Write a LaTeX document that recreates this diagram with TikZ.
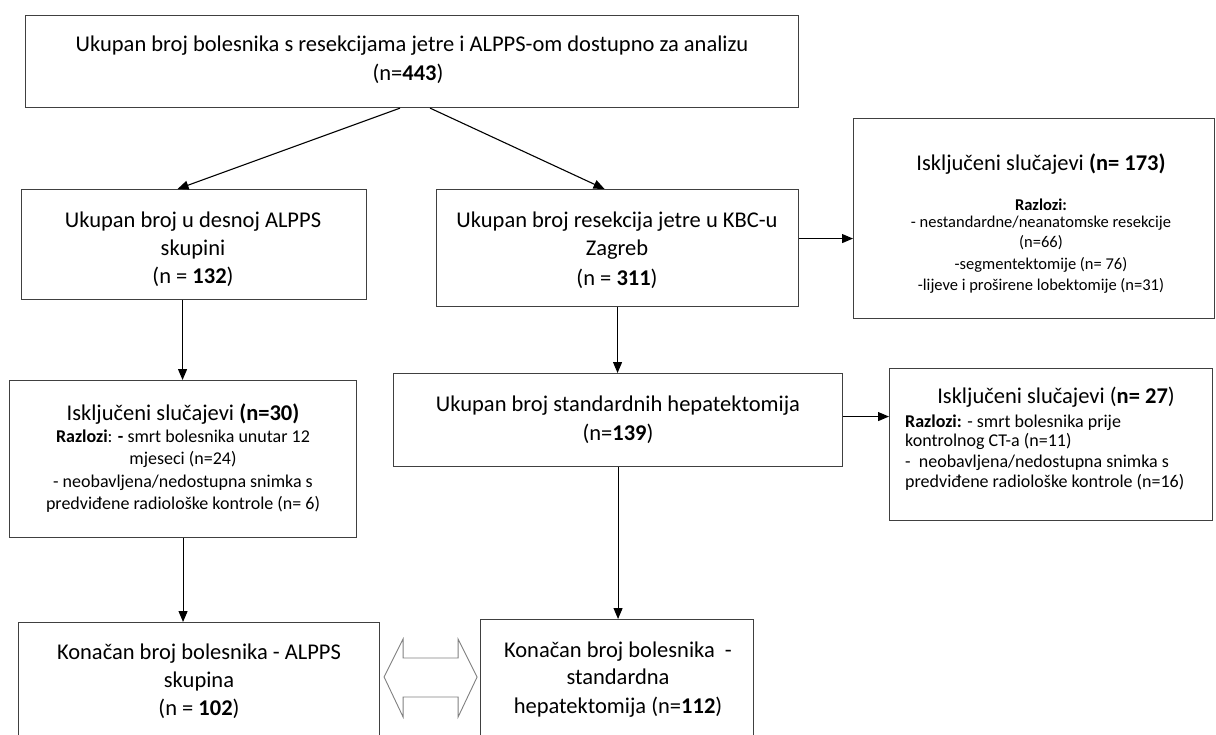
\documentclass[tikz,border=0pt]{standalone}
\usepackage{fontspec}
\setmainfont{Carlito}
\usetikzlibrary{arrows.meta,calc}
\begin{document}
\begin{tikzpicture}[x=1pt,y=-1pt,
  box/.style={draw=black!75, line width=1.1pt, anchor=north west, inner sep=0pt},
  big/.style={anchor=base, inner sep=0pt, font=\fontsize{22.5}{27}\selectfont},
  mid/.style={anchor=base, inner sep=0pt, font=\fontsize{18}{22}\selectfont},
  sml/.style={anchor=base, inner sep=0pt, font=\fontsize{16.5}{20}\selectfont},
  arr/.style={line width=1.1pt, -{Triangle[length=11pt,width=9pt]}},
  dbl/.style={draw=black!50, line width=0.9pt, fill=white}
]
\useasboundingbox (0,0) rectangle (1216,734);
\clip (0,0) rectangle (1216,734);
\fill[white] (0,0) rectangle (1216,734);

% boxes
\node[box, minimum width=773pt, minimum height=92pt] (top) at (25,15) {};
\node[box, minimum width=345pt, minimum height=110pt] (b132) at (21,189) {};
\node[box, minimum width=362pt, minimum height=117pt] (b311) at (436,189) {};
\node[box, minimum width=361pt, minimum height=200pt] (b173) at (853,118) {};
\node[box, minimum width=347pt, minimum height=157pt] (b30) at (9,380) {};
\node[box, minimum width=449pt, minimum height=93pt] (b139) at (393,373) {};
\node[box, minimum width=323pt, minimum height=152pt] (b27) at (889,368) {};
\node[box, minimum width=361pt, minimum height=140pt] (b102) at (18,622) {};
\node[box, minimum width=273pt, minimum height=140pt] (b112) at (480,619) {};

% texts
\node[big] (ttop1) at (412,51) {Ukupan broj bolesnika s resekcijama jetre i ALPPS-om dostupno za analizu};
\node[big] (ttop2) at (408,80) {(n=\textbf{443})};

\node[big] (t132a) at (193,227) {Ukupan broj u desnoj ALPPS};
\node[big] (t132b) at (193,255) {skupini};
\node[big] (t132c) at (193,283) {(n = \textbf{132})};

\node[big] (t311a) at (617,227) {Ukupan broj resekcija jetre u KBC-u};
\node[big] (t311b) at (617,255) {Zagreb};
\node[big] (t311c) at (617,285) {(n = \textbf{311})};

\node[big] (t173a) at (1041,170) {Isključeni slučajevi \textbf{(n= 173)}};
\node[sml] (t173b) at (1041,210) {\textbf{Razlozi:}};
\node[sml] (t173c) at (1041,227) {- nestandardne/neanatomske resekcije};
\node[sml] (t173d) at (1041,247) {(n=66)};
\node[sml] (t173e) at (1041,269) {-segmentektomije (n= 76)};
\node[sml] (t173f) at (1041,290) {-lijeve i proširene lobektomije (n=31)};

\node[big] (t30a) at (183,420) {Isključeni slučajevi \textbf{(n=30)}};
\node[mid] (t30b) at (183,442) {\textbf{Razlozi}: \textbf{-} smrt bolesnika unutar 12};
\node[mid] (t30c) at (183,464) {mjeseci (n=24)};
\node[mid] (t30d) at (183,487) {- neobavljena/nedostupna snimka s};
\node[mid] (t30e) at (183,509) {predviđene radiološke kontrole (n= 6)};

\node[big] (t139a) at (618,411) {Ukupan broj standardnih hepatektomija};
\node[big] (t139b) at (618,440) {(n=\textbf{139})};

\node[big] (t27a) at (1056,403) {Isključeni slučajevi (\textbf{n= 27})};
\node[mid, anchor=base west] (t27b) at (905,427) {\textbf{Razlozi:} - smrt bolesnika prije};
\node[mid, anchor=base west] (t27c) at (905,446) {kontrolnog CT-a (n=11)};
\node[mid, anchor=base west] (t27d) at (905,467) {-\ \ neobavljena/nedostupna snimka s};
\node[mid, anchor=base west] (t27e) at (905,487) {predviđene radiološke kontrole (n=16)};

\node[big] (t102a) at (199,659) {Konačan broj bolesnika - ALPPS};
\node[big] (t102b) at (199,687) {skupina};
\node[big] (t102c) at (199,715) {(n = \textbf{102})};

\node[big] (t112a) at (618,657) {Konačan broj bolesnika\ \ -};
\node[big] (t112b) at (618,684) {standardna};
\node[big] (t112c) at (618,713) {hepatektomija (n=\textbf{112})};

% connectors
\draw[arr] ([xshift=-12pt]top.south) -- ([xshift=-16.5pt]b132.north);
\draw[arr] ([xshift=18pt]top.south) -- ([xshift=-13pt]b311.north);
\draw[arr] ([yshift=9.5pt]b311.east) -- ([yshift=9.5pt]b311.east -| b173.west);
\draw[arr] ([xshift=-11.5pt]b132.south) -- ([xshift=-11.5pt]b132.south |- b30.north);
\draw[arr] (b311.south) -- (b311.south |- b139.north);
\draw[arr] ([yshift=3.5pt]b139.east) -- ([yshift=3.5pt]b139.east -| b27.west);
\draw[arr] (b30.south) -- (b30.south |- b102.north);
\draw[arr] (b139.south) -- (b139.south |- b112.north);

% double block arrow between final boxes
\coordinate (dl) at ($(b102.north east)+(4,55)$);
\coordinate (dr) at ($(b112.north west)+(-4,58)$);
\draw[dbl] (dl) -- ++(19,-38) -- ++(0,19) -- ++(55,0) -- ++(0,-19) -- ++(19,38)
  -- ++(-19,40) -- ++(0,-20) -- ++(-55,0) -- ++(0,20) -- cycle;
\end{tikzpicture}
\end{document}
